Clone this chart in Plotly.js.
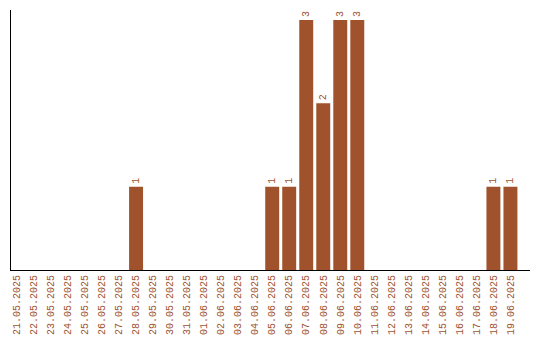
<!DOCTYPE html>
<html>
<head>
<meta charset="utf-8">
<script src="https://cdn.plot.ly/plotly-3.0.1.min.js"></script>
<style>html,body{margin:0;padding:0;background:#fff;}#chart{width:540px;height:340px;}</style>
</head>
<body>
<div id="chart"></div>
<script>
const dates = ["21.05.2025","22.05.2025","23.05.2025","24.05.2025","25.05.2025","26.05.2025","27.05.2025","28.05.2025","29.05.2025","30.05.2025","31.05.2025","01.06.2025","02.06.2025","03.06.2025","04.06.2025","05.06.2025","06.06.2025","07.06.2025","08.06.2025","09.06.2025","10.06.2025","11.06.2025","12.06.2025","13.06.2025","14.06.2025","15.06.2025","16.06.2025","17.06.2025","18.06.2025","19.06.2025"];
const counts = [0,0,0,0,0,0,0,1,0,0,0,0,0,0,0,1,1,3,2,3,3,0,0,0,0,0,0,0,1,1];
const labels = counts.map(v => v > 0 ? String(v) : "");
const brown = "#a0522d";
const fnt = {family: "Liberation Mono, monospace", size: 10, color: brown};

Plotly.newPlot("chart", [{
  type: "bar",
  x: dates,
  y: counts,
  text: labels,
  textposition: "outside",
  textangle: -90,
  textfont: fnt,
  cliponaxis: false,
  marker: {color: brown},
  hoverinfo: "none"
}], {
  width: 540, height: 340,
  margin: {l: 11, r: 10, t: 10, b: 70},
  bargap: 0.18,
  paper_bgcolor: "#fff", plot_bgcolor: "#fff",
  showlegend: false,
  xaxis: {
    type: "category",
    range: [-0.35, 30.15],
    tickangle: -90,
    tickfont: fnt,
    showline: true, linecolor: "#000", linewidth: 1,
    ticks: "", showgrid: false, zeroline: false, fixedrange: true
  },
  yaxis: {
    range: [0, 3.12],
    showticklabels: false,
    showline: true, linecolor: "#000", linewidth: 1,
    ticks: "", showgrid: false, zeroline: false, fixedrange: true
  }
}, {displayModeBar: false, staticPlot: true});
</script>
</body>
</html>
